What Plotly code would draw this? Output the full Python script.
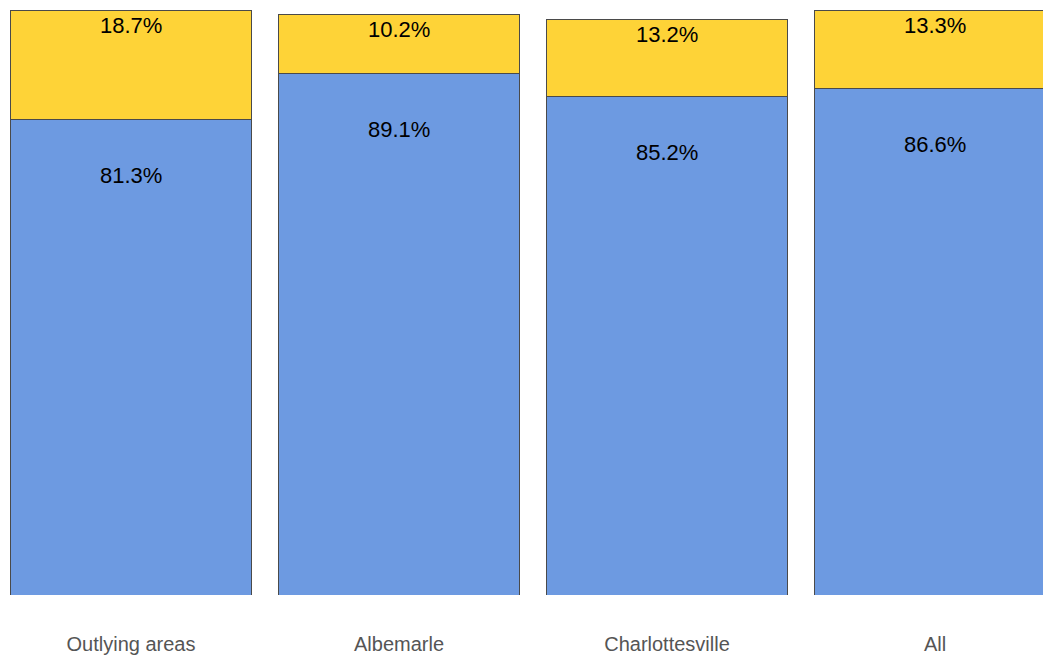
import plotly.graph_objects as go

categories = ["Outlying areas", "Albemarle", "Charlottesville", "All"]
blue_values = [81.3, 89.1, 85.2, 86.6]
yellow_values = [18.7, 10.2, 13.2, 13.3]

blue_color = "#6d9ae1"
yellow_color = "#fed337"
edge = "#4a4a4a"

fig = go.Figure()
fig.add_trace(go.Bar(x=categories, y=blue_values, marker=dict(color=blue_color, line=dict(color=edge, width=1)),
                     hoverinfo="skip", showlegend=False))
fig.add_trace(go.Bar(x=categories, y=yellow_values, marker=dict(color=yellow_color, line=dict(color=edge, width=1)),
                     hoverinfo="skip", showlegend=False))

annotations = []
for c, b, yv in zip(categories, blue_values, yellow_values):
    annotations.append(dict(x=c, y=b, xref="x", yref="y", text=f"{b:.1f}%", showarrow=False,
                            yshift=-56, font=dict(family="Liberation Sans, Arial", size=22, color="#000")))
    annotations.append(dict(x=c, y=b + yv, xref="x", yref="y", text=f"{yv:.1f}%", showarrow=False,
                            yshift=-15, font=dict(family="Liberation Sans, Arial", size=22, color="#000")))

fig.update_layout(
    barmode="stack",
    bargap=0.1,
    width=1043, height=656,
    margin=dict(l=0, r=0, t=0, b=61, autoexpand=False),
    paper_bgcolor="white", plot_bgcolor="white",
    annotations=annotations,
    xaxis=dict(range=[-0.4888, 3.403], showgrid=False, zeroline=False, showline=False, automargin=False,
               ticks="outside", ticklen=31, tickcolor="rgba(0,0,0,0)",
               tickfont=dict(family="Liberation Sans, Arial", size=20, color="#555555")),
    yaxis=dict(range=[0, 595 / 5.85], showgrid=False, zeroline=False, showline=False, showticklabels=False,
               automargin=False),
)

fig.write_html("out.html", config={"displayModeBar": False},
               post_script="document.body.style.margin='0';document.body.style.overflow='hidden';")
